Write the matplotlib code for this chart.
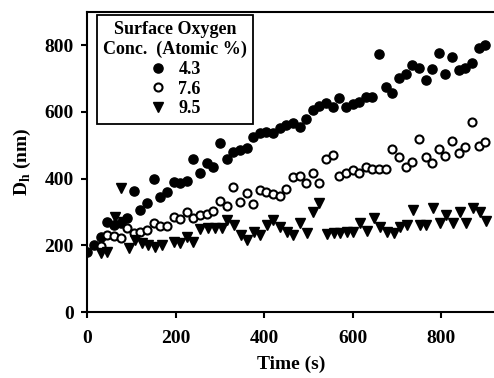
import matplotlib
matplotlib.use('Agg')
import matplotlib.pyplot as plt
import numpy as np

plt.rcParams['font.family'] = ['Liberation Serif', 'DejaVu Serif']
plt.rcParams['font.weight'] = 'bold'
plt.rcParams['mathtext.fontset'] = 'custom'
plt.rcParams['mathtext.rm'] = 'Liberation Serif:bold'
plt.rcParams['mathtext.bf'] = 'Liberation Serif:bold'

# 4.3 % 和 7.6 % 两组共用时间轴（秒）
time_a = [0, 15, 30, 45, 60, 75, 90, 105, 120, 135, 150, 165, 180, 195, 210, 225,
          240, 255, 270, 285, 300, 315, 330, 345, 360, 375, 390, 405, 420, 435, 450,
          465, 480, 495, 510, 525, 540, 555, 570, 585, 600, 615, 630, 645, 660, 675,
          690, 705, 720, 735, 750, 765, 780, 795, 810, 825, 840, 855, 870, 885, 900]
# 表面氧 4.3 %（实心圆）
d_43 = [180, 200, 226, 271, 262, 266, 281, 363, 306, 326, 398, 344, 361, 391, 388, 394,
        458, 418, 446, 434, 506, 458, 479, 486, 491, 526, 536, 541, 538, 551, 561,
        568, 556, 578, 606, 618, 626, 616, 641, 616, 624, 631, 646, 646, 774, 674,
        656, 701, 714, 741, 731, 696, 728, 778, 714, 766, 726, 731, 746, 791, 801]
# 表面氧 7.6 %（空心圆）
d_76 = [np.nan, np.nan, 198, 231, 228, 221, 251, 238, 241, 246, 266, 258, 258, 284, 278, 301,
        281, 291, 294, 304, 334, 318, 376, 331, 356, 324, 366, 361, 354, 348, 368,
        404, 408, 388, 418, 388, 458, 471, 408, 418, 426, 418, 436, 428, 428, 428,
        488, 464, 436, 451, 518, 464, 448, 488, 468, 514, 476, 494, 571, 498, 511]
# 表面氧 9.5 %（倒三角）
time_b = [30, 45, 63, 75, 80, 93, 108, 123, 138, 153, 168, 195, 210, 225, 240, 255,
          272, 289, 304, 316, 331, 348, 361, 376, 391, 406, 421, 436, 451, 466, 481,
          497, 510, 525, 542, 557, 572, 587, 602, 617, 633, 648, 663, 678, 693, 708,
          723, 736, 752, 767, 782, 797, 812, 827, 842, 857, 872, 888, 903]
d_95 = [176, 179, 286, 371, 271, 191, 216, 206, 201, 196, 201, 211, 206, 226, 211, 248,
        251, 251, 253, 276, 261, 231, 216, 241, 231, 261, 276, 256, 241, 231, 266,
        236, 301, 328, 234, 238, 238, 241, 241, 268, 244, 281, 256, 241, 237, 256,
        261, 307, 261, 261, 311, 267, 292, 267, 301, 267, 313, 300, 273]

fig = plt.figure(figsize=(4.94, 3.78), dpi=100)
ax = fig.add_axes([0.177, 0.1746, 0.823, 0.794])

ax.plot(time_a, d_43, 'o', color='black', markersize=6.6, label='4.3')
ax.plot(time_a, d_76, 'o', mfc='white', mec='black', mew=1.5, markersize=5.8, label='7.6')
ax.plot(time_b, d_95, 'v', color='black', markersize=7.5, label='9.5')

ax.set_xlim(0, 920)
ax.set_ylim(0, 900)
ax.set_xticks([0, 200, 400, 600, 800])
ax.set_yticks([0, 200, 400, 600, 800])
ax.spines['right'].set_visible(False)
for s in ['left', 'bottom', 'top']:
    ax.spines[s].set_linewidth(1.5)
ax.tick_params(direction='out', length=4, width=1.5, labelsize=14, pad=6)
ax.tick_params(axis='x', pad=9)
ax.set_xlabel('Time (s)', fontsize=14, fontweight='bold', labelpad=6)
ax.set_ylabel('D$_{\\mathrm{h}}$ (nm)', fontsize=14, fontweight='bold', labelpad=8)

leg = ax.legend(title='Surface Oxygen\nConc.  (Atomic %)', loc='upper left',
                bbox_to_anchor=(0.023, 0.99), borderaxespad=0, fontsize=13,
                title_fontsize=13, fancybox=False, edgecolor='black', framealpha=1,
                handletextpad=0.6, labelspacing=0.15, borderpad=0.35, handlelength=1.0)
leg.get_frame().set_linewidth(1.3)
plt.setp(leg.get_title(), fontweight='bold', multialignment='center')

plt.savefig('out.png', dpi=100)
